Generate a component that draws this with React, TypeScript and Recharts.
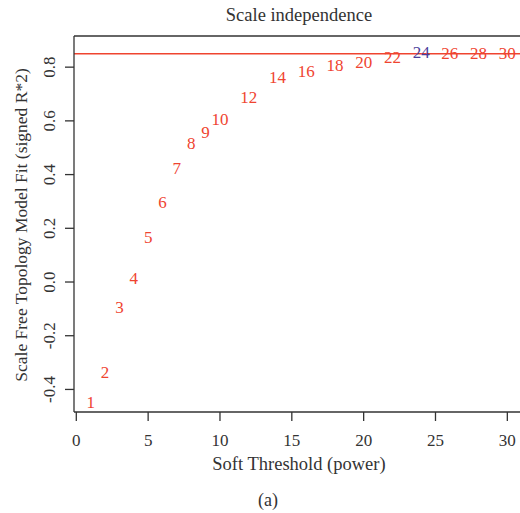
import React from 'react';
import { ScatterChart, Scatter, XAxis, YAxis, ReferenceLine } from 'recharts';

// soft-thresholding powers and their signed scale-free fit
const powers = [1, 2, 3, 4, 5, 6, 7, 8, 9, 10, 12, 14, 16, 18, 20, 22, 24, 26, 28, 30];
const fitValues = [
  -0.447, -0.335, -0.093, 0.015, 0.168, 0.298, 0.425, 0.518, 0.559, 0.607,
  0.689, 0.763, 0.786, 0.808, 0.819, 0.838, 0.857, 0.853, 0.853, 0.853,
];
const xTicks = [0, 5, 10, 15, 20, 25, 30];
const yTicks = [-0.4, -0.2, 0.0, 0.2, 0.4, 0.6, 0.8];
const cutoff = 0.85;
const pickedPower = 24;

const data = powers.map((p, i) => ({ power: p, fit: fitValues[i] }));

const FONT = '"Liberation Serif", "DejaVu Serif", serif';
const RED = '#EF4430';
const BLUE = '#4B3E9B';
const INK = '#333333';
const X_DOMAIN: [number, number] = [-0.16, 31.16];
const Y_DOMAIN: [number, number] = [-0.484, 0.916];

const PowerLabel = (props: any) => {
  const { cx, cy, payload } = props;
  return (
    <text
      x={cx}
      y={cy}
      dy="0.35em"
      textAnchor="middle"
      fontFamily={FONT}
      fontSize={17}
      fill={payload.power === pickedPower ? BLUE : RED}
    >
      {payload.power}
    </text>
  );
};

const YTick = (props: any) => {
  const { x, y, payload } = props;
  const tx = x - 10;
  return (
    <text
      x={tx}
      y={y}
      transform={`rotate(-90, ${tx}, ${y})`}
      textAnchor="middle"
      fontFamily={FONT}
      fontSize={17}
      fill={INK}
    >
      {payload.value.toFixed(1)}
    </text>
  );
};

export default function App() {
  return (
    <div style={{ position: 'absolute', left: 0, top: 0, width: 520, height: 513, overflow: 'hidden', background: '#fff', fontFamily: FONT, color: INK }}>
      <ScatterChart width={524} height={513} margin={{ top: 36, right: 0, bottom: 0, left: 0 }}>
        <XAxis
          type="number"
          dataKey="power"
          domain={X_DOMAIN}
          ticks={xTicks}
          allowDataOverflow
          height={101}
          tickSize={9}
          tickMargin={13}
          stroke={INK}
          strokeWidth={1.3}
          tick={{ fill: INK, fontSize: 17, fontFamily: FONT }}
        />
        <YAxis
          type="number"
          dataKey="fit"
          domain={Y_DOMAIN}
          ticks={yTicks}
          allowDataOverflow
          width={74}
          tickSize={9}
          tickMargin={0}
          stroke={INK}
          strokeWidth={1.3}
          tick={<YTick />}
        />
        <ReferenceLine y={Y_DOMAIN[1]} stroke={INK} strokeWidth={1.5} />
        <ReferenceLine y={cutoff} stroke={RED} strokeWidth={1.3} />
        <Scatter data={data} shape={<PowerLabel />} isAnimationActive={false} />
      </ScatterChart>
      <div style={{ position: 'absolute', left: 74, width: 450, top: 5, textAlign: 'center', fontSize: 18.5 }}>
        Scale independence
      </div>
      <div style={{ position: 'absolute', left: 74, width: 450, top: 454, textAlign: 'center', fontSize: 18.5 }}>
        Soft Threshold (power)
      </div>
      <div style={{ position: 'absolute', left: 0, width: 536, top: 490, textAlign: 'center', fontSize: 18 }}>
        (a)
      </div>
      <div
        style={{
          position: 'absolute',
          left: 21,
          top: 225,
          transform: 'translate(-50%, -50%) rotate(-90deg)',
          whiteSpace: 'nowrap',
          fontSize: 17.5,
        }}
      >
        Scale Free Topology Model Fit (signed R*2)
      </div>
    </div>
  );
}
